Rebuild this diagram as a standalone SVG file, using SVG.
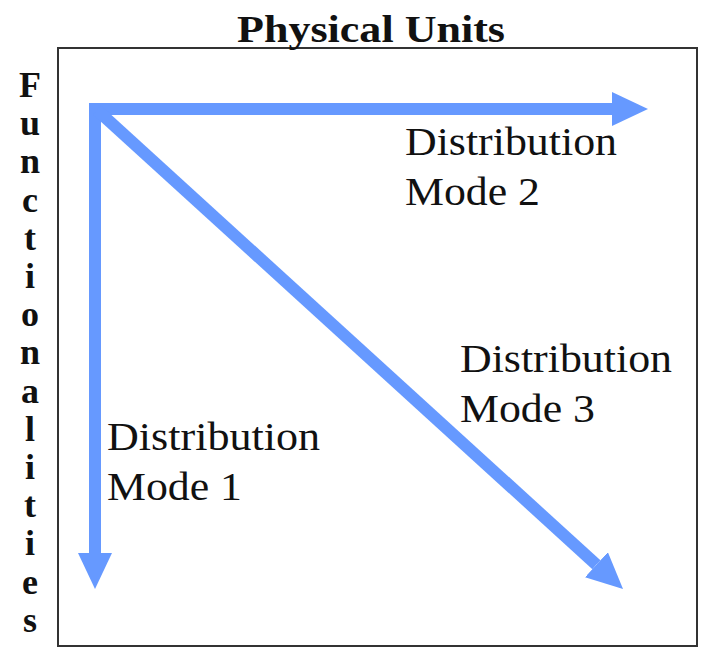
<svg xmlns="http://www.w3.org/2000/svg" width="701" height="649" viewBox="0 0 701 649">
<style>
.t{font-family:"Liberation Serif","Times New Roman",serif;fill:#111}
.b{font-weight:bold}
.lbl{font-size:40px}
.arr{stroke:#6699FF;stroke-width:12;fill:none}
</style>
<defs>
<marker id="ah" markerUnits="userSpaceOnUse" markerWidth="36" markerHeight="34" refX="0" refY="17" orient="auto" viewBox="0 0 36 34">
<path d="M0,0 L36,17 L0,34 Z" fill="#6699FF"/>
</marker>
</defs>
<rect width="701" height="649" fill="#fff"/>
<g id="frame">
<rect x="58" y="48" width="639" height="598" fill="none" stroke="#333" stroke-width="2"/>
</g>
<g id="title">
<text class="t b" x="237" y="42" font-size="38" textLength="268" lengthAdjust="spacingAndGlyphs">Physical Units</text>
</g>
<g id="axis-label" class="t b" font-size="36" text-anchor="middle">
<text x="30" y="97">F</text>
<text x="30" y="135">u</text>
<text x="30" y="173">n</text>
<text x="30" y="212">c</text>
<text x="30" y="250">t</text>
<text x="30" y="288">i</text>
<text x="30" y="326">o</text>
<text x="30" y="364">n</text>
<text x="30" y="403">a</text>
<text x="30" y="441">l</text>
<text x="30" y="479">i</text>
<text x="30" y="517">t</text>
<text x="30" y="555">i</text>
<text x="30" y="594">e</text>
<text x="30" y="632">s</text>
</g>
<g id="connectors">
<line class="arr" x1="89" y1="109" x2="612" y2="109" marker-end="url(#ah)"/>
<line class="arr" x1="95" y1="103" x2="95" y2="553" marker-end="url(#ah)"/>
<line class="arr" x1="97" y1="110" x2="596.4" y2="564.7" marker-end="url(#ah)"/>
</g>
<g id="mode1" class="t lbl">
<text x="107" y="450" textLength="213" lengthAdjust="spacingAndGlyphs">Distribution</text>
<text x="107" y="500" textLength="135" lengthAdjust="spacingAndGlyphs">Mode 1</text>
</g>
<g id="mode2" class="t lbl">
<text x="405" y="155" textLength="212" lengthAdjust="spacingAndGlyphs">Distribution</text>
<text x="405" y="205" textLength="135" lengthAdjust="spacingAndGlyphs">Mode 2</text>
</g>
<g id="mode3" class="t lbl">
<text x="460" y="372" textLength="212" lengthAdjust="spacingAndGlyphs">Distribution</text>
<text x="460" y="422" textLength="135" lengthAdjust="spacingAndGlyphs">Mode 3</text>
</g>
</svg>
